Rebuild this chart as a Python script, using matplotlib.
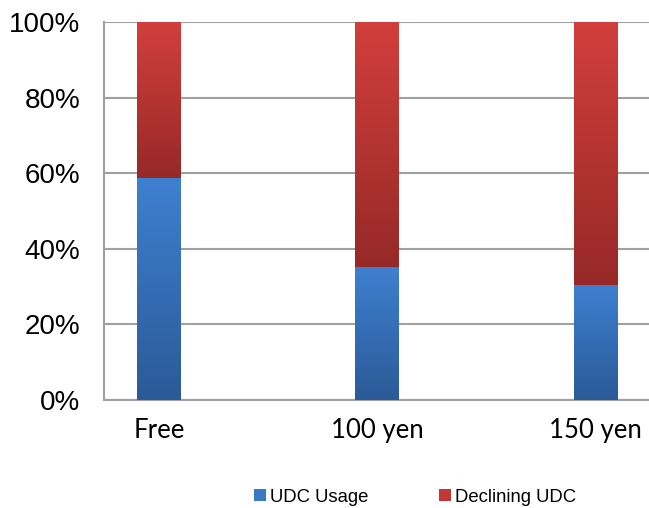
import numpy as np
import matplotlib.pyplot as plt
from matplotlib.colors import LinearSegmentedColormap
from matplotlib.patches import Patch

categories = ['Free', '100 yen', '150 yen']
udc_usage = [58.7, 35.1, 30.5]
declining_udc = [41.3, 64.9, 69.5]
y_ticks = [0, 20, 40, 60, 80, 100]
y_tick_labels = ['0%', '20%', '40%', '60%', '80%', '100%']

blue_cmap = LinearSegmentedColormap.from_list('blue', ['#2b5a97', '#3e80d0'])
red_cmap = LinearSegmentedColormap.from_list('red', ['#962927', '#d23f3c'])


def gradient_bars(ax, bars, cmap):
    # fill each bar with a vertical gradient, dark at the bottom
    grad = np.linspace(0, 1, 256).reshape(-1, 1)
    for bar in bars:
        x0, y0 = bar.get_x(), bar.get_y()
        w, h = bar.get_width(), bar.get_height()
        bar.set_facecolor('none')
        img = ax.imshow(grad, cmap=cmap, origin='lower', aspect='auto',
                        extent=(x0, x0 + w, y0, y0 + h), zorder=3,
                        interpolation='bicubic')
        img.set_clip_path(bar)


fig = plt.figure(figsize=(6.49, 5.08), dpi=100)
ax = fig.add_axes([104 / 649, 108 / 508, 545 / 649, 378 / 508])

x = np.arange(len(categories))
width = 44 / 218.5
b1 = ax.bar(x, udc_usage, width, color='#3e80d0', zorder=3, linewidth=0,
            label='UDC Usage')
b2 = ax.bar(x, declining_udc, width, bottom=udc_usage, color='#d23f3c',
            zorder=3, linewidth=0, label='Declining UDC')
gradient_bars(ax, b1, blue_cmap)
gradient_bars(ax, b2, red_cmap)

ax.set_xlim(-0.252, 2.243)
ax.set_ylim(0, 100)
ax.set_yticks(y_ticks)
ax.set_yticklabels(y_tick_labels, fontsize=20, fontfamily='Liberation Sans')
ax.set_xticks(x)
ax.set_xticklabels(categories, fontsize=18.5, fontfamily='Lato')
ax.tick_params(axis='y', length=0, pad=17)
ax.tick_params(axis='x', length=0, pad=13)

ax.yaxis.grid(True, color='#a0a0a0', linewidth=1.5, zorder=0)
ax.set_axisbelow(True)
for s in ['top', 'right']:
    ax.spines[s].set_visible(False)
for s in ['left', 'bottom']:
    ax.spines[s].set_color('#a0a0a0')
    ax.spines[s].set_linewidth(1.5)

handles = [Patch(facecolor='#3a78c4', label='UDC Usage'),
           Patch(facecolor='#c23634', label='Declining UDC')]
fig.legend(handles=handles, loc='center', bbox_to_anchor=(415 / 649, 1 - 497 / 508),
           ncol=2, frameon=False, handlelength=0.65, handleheight=0.65,
           handletextpad=0.25, columnspacing=3.8,
           prop={'family': 'Liberation Sans', 'size': 13.3})

fig.savefig('out.png', dpi=100)
